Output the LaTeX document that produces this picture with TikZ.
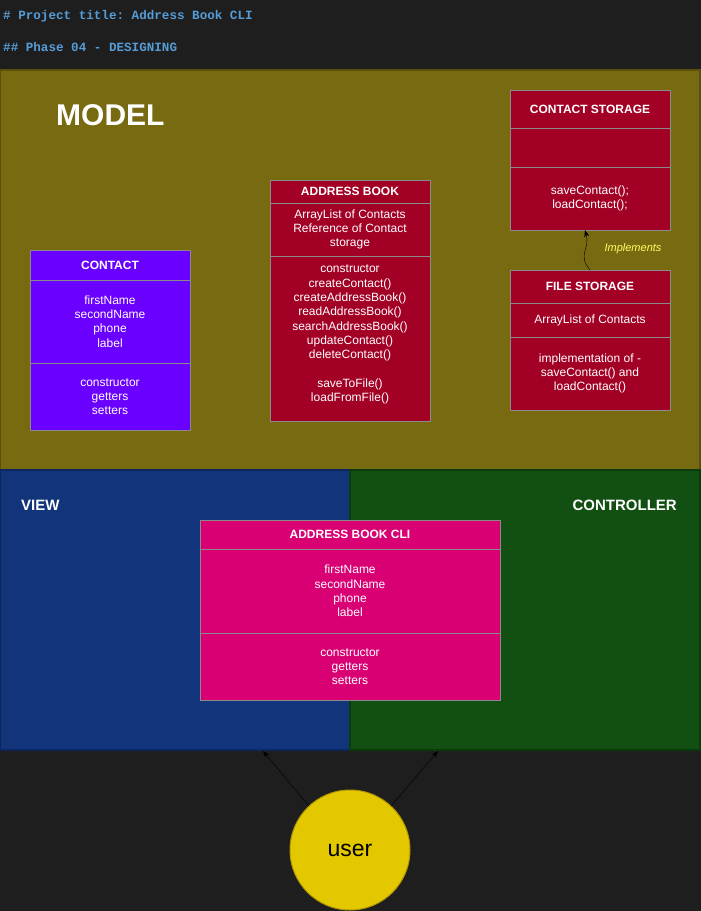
\documentclass[tikz,border=0pt]{standalone}
\usepackage{fontspec}
\setmainfont{Liberation Sans}
\newfontfamily\titlefont{Liberation Mono}
\usetikzlibrary{arrows.meta}
\frenchspacing

\definecolor{bg}{HTML}{1E1E1E}
\definecolor{titleblue}{HTML}{569CD6}
\definecolor{modelfill}{HTML}{786A10}
\definecolor{modelline}{HTML}{5A4F0B}
\definecolor{viewfill}{HTML}{12347A}
\definecolor{viewline}{HTML}{0D2660}
\definecolor{ctrlfill}{HTML}{114F12}
\definecolor{ctrlline}{HTML}{0B3A0C}
\definecolor{stor}{HTML}{A20025}
\definecolor{contactfill}{HTML}{6A00FF}
\definecolor{clifill}{HTML}{D80073}
\definecolor{boxline}{HTML}{8A8A8A}
\definecolor{userfill}{HTML}{E3C800}
\definecolor{userline}{HTML}{B09500}
\definecolor{implyellow}{HTML}{FFFF66}

\newcommand{\boxfont}{\fontsize{12}{14.3}\selectfont}

\tikzset{
 cell/.style={draw=boxline, line width=1pt, minimum width=160pt, inner sep=0pt, outer sep=0pt,
   anchor=north west, text=white, align=center, font=\boxfont},
 hcell/.style={cell, font=\boxfont\bfseries},
 area/.style={line width=1.5pt},
 arealabel/.style={text=white, font=\fontsize{15}{18}\selectfont\bfseries, inner sep=0pt},
}

\begin{document}
\begin{tikzpicture}[x=1pt,y=-1pt]
 \fill[bg] (0,0) rectangle (701,911); %背景
 \useasboundingbox (0,0) rectangle (701,911);
 \node[anchor=west, inner sep=0pt, text=titleblue, font=\titlefont\fontsize{12.6}{15}\selectfont\bfseries] (title) at (3,16) {\# Project title: Address Book CLI}; %タイトル
 \node[anchor=west, inner sep=0pt, text=titleblue, font=\titlefont\fontsize{12.6}{15}\selectfont\bfseries] (phase) at (3,47) {\#\# Phase 04 - DESIGNING}; %フェーズ
 \draw[area, fill=modelfill, draw=modelline] (0,70) rectangle (700,470); %モデル領域
 \draw[area, fill=viewfill, draw=viewline] (0,470) rectangle (350,750); %ビュー領域
 \draw[area, fill=ctrlfill, draw=ctrlline] (350,470) rectangle (700,750); %コントローラ領域
 \node[anchor=west, text=white, inner sep=0pt, font=\fontsize{30}{35}\selectfont\bfseries] (model) at (56,115) {MODEL};
 \node[arealabel, anchor=west] (view) at (21,505) {VIEW};
 \node[arealabel, anchor=east] (ctrl) at (677,505) {CONTROLLER};
 % CONTACT STORAGE
 \node[hcell, fill=stor, minimum height=38pt] (cshead) at (510,90) {CONTACT STORAGE};
 \node[cell, fill=stor, minimum height=39pt] (csattr) at (510,128) {};
 \node[cell, fill=stor, minimum height=63pt] (csmeth) at (510,167) {saveContact();\\loadContact();};
 % FILE STORAGE
 \node[hcell, fill=stor, minimum height=33pt] (fshead) at (510,270) {FILE STORAGE};
 \node[cell, fill=stor, minimum height=34pt] (fsattr) at (510,303) {ArrayList of Contacts};
 \node[cell, fill=stor, minimum height=73pt] (fsmeth) at (510,337) {implementation of -\\saveContact() and\\loadContact()};
 % ADDRESS BOOK
 \node[hcell, fill=stor, minimum height=23pt] (abhead) at (270,180) {ADDRESS BOOK};
 \node[cell, fill=stor, minimum height=53pt] (abattr) at (270,203) {ArrayList of Contacts\\Reference of Contact\\storage};
 \node[cell, fill=stor, minimum height=165pt] (abmeth) at (270,256) {};
 \node[anchor=north, inner sep=0pt, text=white, align=center, font=\boxfont] (abops) at ([yshift=-9pt]abmeth.north) {constructor\\createContact()\\createAddressBook()\\readAddressBook()\\searchAddressBook()\\updateContact()\\deleteContact()\\[14.3pt]saveToFile()\\loadFromFile()};
 % CONTACT
 \node[hcell, fill=contactfill, minimum height=30pt] (cohead) at (30,250) {CONTACT};
 \node[cell, fill=contactfill, minimum height=83pt] (coattr) at (30,280) {firstName\\secondName\\phone\\label};
 \node[cell, fill=contactfill, minimum height=67pt] (cometh) at (30,363) {constructor\\getters\\setters};
 % ADDRESS BOOK CLI
 \node[hcell, fill=clifill, minimum width=300pt, minimum height=29pt] (clihead) at (200,520) {ADDRESS BOOK CLI};
 \node[cell, fill=clifill, minimum width=300pt, minimum height=84pt] (cliattr) at (200,549) {firstName\\secondName\\phone\\label};
 \node[cell, fill=clifill, minimum width=300pt, minimum height=67pt] (climeth) at (200,633) {constructor\\getters\\setters};
 % 実装の矢印
 \draw[-{Stealth[length=7pt,width=5pt]}, thin] (fshead.north) to[out=130,in=-75,looseness=1.3] ([xshift=-5pt]csmeth.south);
 \node[text=implyellow, font=\fontsize{11}{13}\selectfont\itshape, inner sep=0pt] (impl) at (633,249) {Implements};
 % ユーザ
 \node[circle, fill=userfill, draw=userline, line width=1pt, minimum size=120pt, inner sep=0pt, font=\fontsize{23}{27}\selectfont] (user) at (350,850) {user};
 \coordinate (viewin) at (263,751); %ビューへ
 \coordinate (ctrlin) at (438,751); %コントローラへ
 \draw[-{Stealth[length=7pt,width=5pt]}, thin] (user.133) -- (viewin);
 \draw[-{Stealth[length=7pt,width=5pt]}, thin] (user.47) -- (ctrlin);
\end{tikzpicture}
\end{document}
